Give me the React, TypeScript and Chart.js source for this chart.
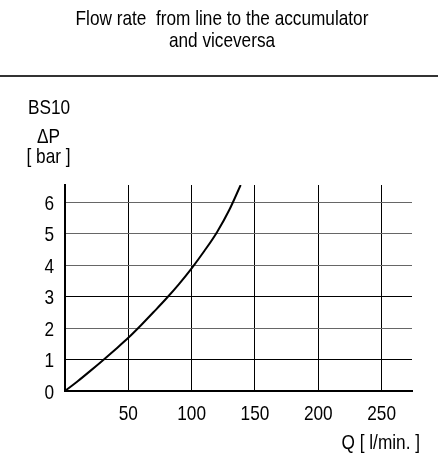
import React, { useEffect, useRef } from "react";
import { Chart, registerables } from "chart.js";

Chart.register(...registerables);

const FONT = "'Liberation Sans', Arial, sans-serif";
const NARROW = 0.82;

const titleLines = ["Flow rate  from line to the accumulator", "and viceversa"];
const modelLabel = "BS10";
const yLabelLines = ["\u0394P", "[ bar ]"];
const xLabel = "Q [ l/min. ]";

const flowQ = [0, 10, 20, 30, 40, 50, 60, 70, 80, 90, 100, 110, 120, 130, 138.7];
const pressureDP = [0, 0.31, 0.64, 0.98, 1.33, 1.69, 2.09, 2.51, 2.94, 3.4, 3.9, 4.45, 5.05, 5.78, 6.55];

const xTicks = [0, 50, 100, 150, 200, 250];
const yTicks = [0, 1, 2, 3, 4, 5, 6];
const xMax = 274;
const yMax = 6.55;

function narrowText(ctx: CanvasRenderingContext2D, text: string, x: number, y: number, align: CanvasTextAlign) {
  ctx.save();
  ctx.translate(x, y);
  ctx.scale(NARROW, 1);
  ctx.textAlign = align;
  ctx.textBaseline = "alphabetic";
  ctx.fillText(text, 0, 0);
  ctx.restore();
}

const decorPlugin = {
  id: "decor",
  afterDraw(chart: any) {
    const ctx = chart.ctx as CanvasRenderingContext2D;
    ctx.save();
    ctx.fillStyle = "#000";
    ctx.font = `21px ${FONT}`;
    narrowText(ctx, titleLines[0], 222, 25, "center");
    narrowText(ctx, titleLines[1], 222, 47, "center");
    ctx.fillStyle = "#333";
    ctx.fillRect(0, 75, 438, 2);
    ctx.fillStyle = "#000";
    narrowText(ctx, modelLabel, 49, 114, "center");
    narrowText(ctx, yLabelLines[0], 48.5, 143, "center");
    narrowText(ctx, yLabelLines[1], 48.5, 163, "center");
    narrowText(ctx, xLabel, 420, 449, "right");
    const xs = chart.scales.x;
    xs.ticks.forEach((t: any) => {
      if (t.value === 0) return;
      narrowText(ctx, String(t.value), xs.getPixelForValue(t.value), 420, "center");
    });
    const ys = chart.scales.y;
    ys.ticks.forEach((t: any) => {
      narrowText(ctx, String(t.value), 54, ys.getPixelForValue(t.value) + 7.5, "right");
    });
    ctx.restore();
  },
};

export default function App() {
  const ref = useRef<HTMLCanvasElement>(null);
  useEffect(() => {
    if (!ref.current) return;
    const chart = new Chart(ref.current, {
      type: "line",
      data: {
        datasets: [
          {
            data: flowQ.map((q, i) => ({ x: q, y: pressureDP[i] })),
            borderColor: "#000",
            borderWidth: 2,
            pointRadius: 0,
            cubicInterpolationMode: "monotone",
            fill: false,
          },
        ],
      },
      options: {
        animation: false,
        responsive: false,
        devicePixelRatio: 1,
        layout: { padding: { top: 185, right: 26, left: 0, bottom: 0 } },
        plugins: { legend: { display: false }, title: { display: false }, tooltip: { enabled: false } },
        scales: {
          x: {
            type: "linear",
            min: 0,
            max: xMax,
            afterBuildTicks: (s: any) => {
              s.ticks = xTicks.map((v) => ({ value: v }));
            },
            afterFit: (s: any) => {
              s.height = 69;
            },
            ticks: { display: false },
            grid: { color: "#000", lineWidth: 1, drawTicks: false },
            border: { color: "#000", width: 2 },
          },
          y: {
            type: "linear",
            min: 0,
            max: yMax,
            afterBuildTicks: (s: any) => {
              s.ticks = yTicks.map((v) => ({ value: v }));
            },
            afterFit: (s: any) => {
              s.width = 65;
            },
            ticks: { display: false },
            grid: {
              color: (c: any) => (c.tick && (c.tick.value === 1 || c.tick.value === 3) ? "#000" : "#666"),
              lineWidth: 1,
              drawTicks: false,
            },
            border: { color: "#000", width: 2 },
          },
        },
      },
      plugins: [decorPlugin],
    });
    return () => chart.destroy();
  }, []);
  return (
    <div style={{ position: "absolute", left: 0, top: 0, width: 438, height: 460, background: "#fff" }}>
      <canvas ref={ref} width={438} height={460} style={{ width: 438, height: 460 }} />
    </div>
  );
}
